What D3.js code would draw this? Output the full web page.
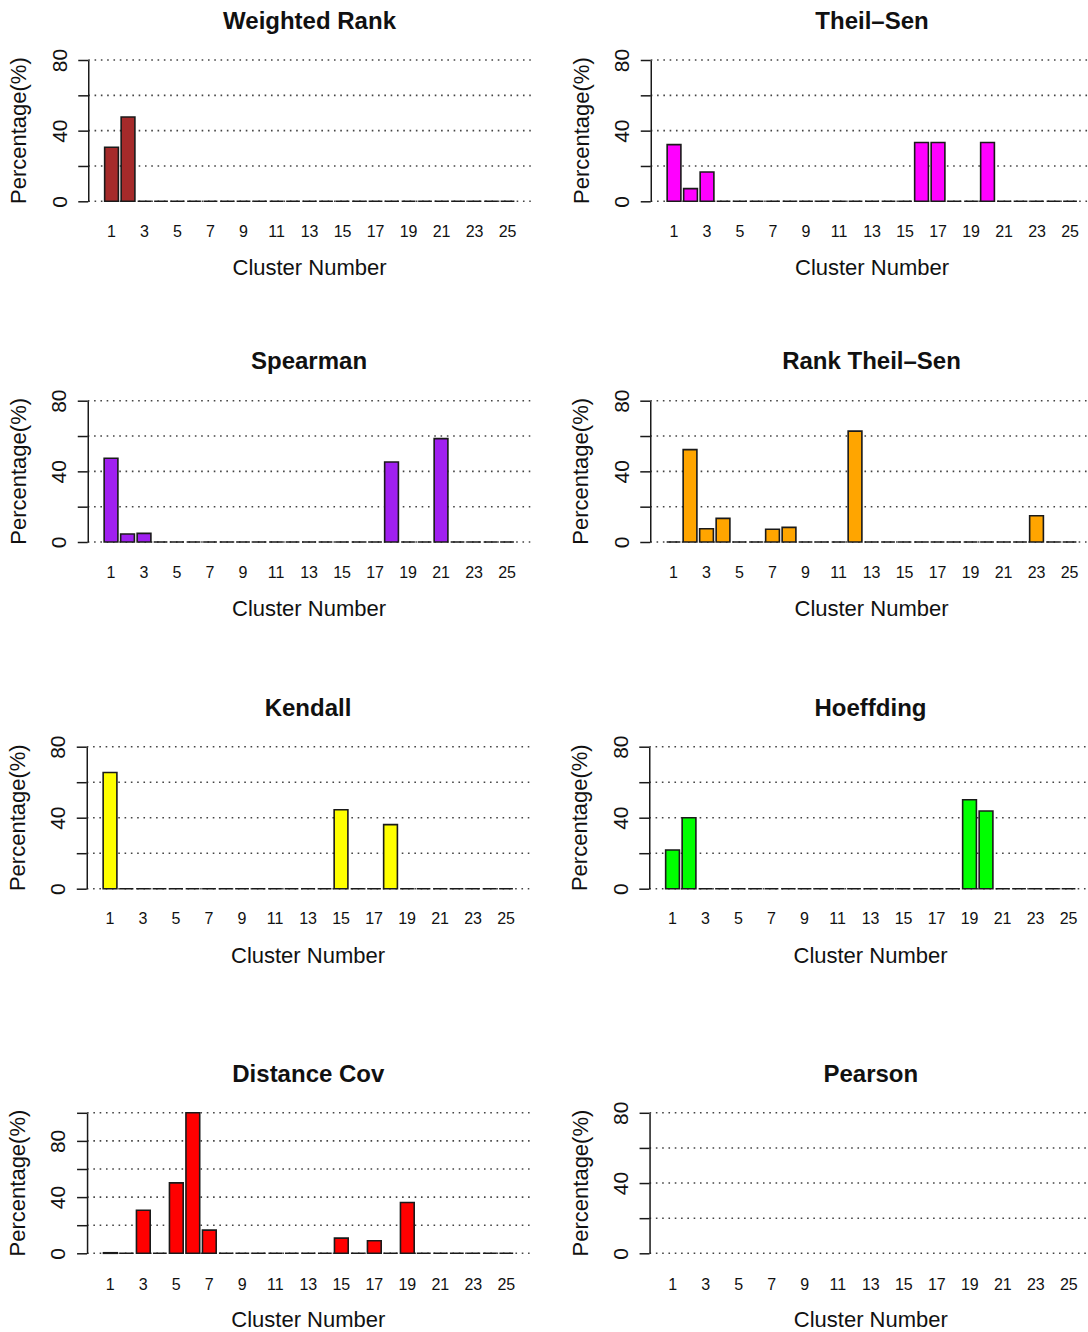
<!DOCTYPE html>
<html>
<head>
<meta charset="utf-8">
<script src="https://cdn.jsdelivr.net/npm/d3@7"></script>
<style>
  html, body { margin: 0; padding: 0; background: #fff; }
  svg { display: block; }
  text { font-family: "Liberation Sans", Arial, Helvetica, sans-serif; fill: #111; }
</style>
</head>
<body>
<svg id="chart" width="1088" height="1332"></svg>
<script>
// ---------------- data ----------------
const clusters = [1,2,3,4,5,6,7,8,9,10,11,12,13,14,15,16,17,18,19,20,21,22,23,24,25];
const xTickLabels = [1,3,5,7,9,11,13,15,17,19,21,23,25];

const weightedRank = [30.6,47.7,0,0,0,0,0,0,0,0,0,0,0,0,0,0,0,0,0,0,0,0,0,0,0];
const theilSen     = [32.1,7.2,16.6,0,0,0,0,0,0,0,0,0,0,0,0,33.3,33.3,0,0,33.3,0,0,0,0,0];
const spearman     = [47.4,4.5,4.9,0,0,0,0,0,0,0,0,0,0,0,0,0,0,45.3,0,0,58.5,0,0,0,0];
const rankTheilSen = [0,52.3,7.5,13.4,0,0,7.2,8.3,0,0,0,62.8,0,0,0,0,0,0,0,0,0,0,14.9,0,0];
const kendall      = [65.5,0,0,0,0,0,0,0,0,0,0,0,0,0,44.5,0,0,36.1,0,0,0,0,0,0,0];
const hoeffding    = [21.8,40,0,0,0,0,0,0,0,0,0,0,0,0,0,0,0,0,50.1,43.8,0,0,0,0,0];
const distanceCov  = [0.4,0,30.6,0,50.1,100,16.5,0,0,0,0,0,0,0,10.8,0,8.9,0,36.2,0,0,0,0,0,0];
const pearson      = [null,null,null,null,null,null,null,null,null,null,null,null,null,null,null,null,null,null,null,null,null,null,null,null,null];

const yTicks80  = [0,20,40,60,80];
const yTicks100 = [0,20,40,60,80,100];
const yTickLabels = [0,40,80];

const panels = [
  {title: "Weighted Rank",   values: weightedRank, color: "#A52A2A", yMax: 80,  ticks: yTicks80,  row: 0, col: 0},
  {title: "Theil\u2013Sen",  values: theilSen,     color: "#FF00FF", yMax: 80,  ticks: yTicks80,  row: 0, col: 1},
  {title: "Spearman",        values: spearman,     color: "#A020F0", yMax: 80,  ticks: yTicks80,  row: 1, col: 0},
  {title: "Rank Theil\u2013Sen", values: rankTheilSen, color: "#FFA500", yMax: 80, ticks: yTicks80, row: 1, col: 1},
  {title: "Kendall",         values: kendall,      color: "#FFFF00", yMax: 80,  ticks: yTicks80,  row: 2, col: 0},
  {title: "Hoeffding",       values: hoeffding,    color: "#00FF00", yMax: 80,  ticks: yTicks80,  row: 2, col: 1},
  {title: "Distance Cov",    values: distanceCov,  color: "#FF0000", yMax: 100, ticks: yTicks100, row: 3, col: 0},
  {title: "Pearson",         values: pearson,      color: "#BEBEBE", yMax: 80,  ticks: yTicks80,  row: 3, col: 1}
];

// ---------------- layout ----------------
const rowZero   = [201.3, 542, 888.7, 1253.3];
const rowH      = [141.3, 141.3, 142, 140.5];
const rowTitleC = [20.7, 360.7, 707, 1073];
const rowTickOff = [36, 35.6, 35, 36.4];
const rowXlabOff = [74, 74, 74.3, 73.6];
const rowDx = [0, -0.5, -1.5, -1.2];
const colDx = [0, 562.5];
const unit = 13.75;
const x0Base = 101.9;

const svg = d3.select("#chart");

panels.forEach(p => {
  const x0 = x0Base + colDx[p.col] + rowDx[p.row];
  const zero = rowZero[p.row];
  const H = rowH[p.row];

  const x = d3.scaleBand()
    .domain(clusters)
    .range([x0, x0 + 30.2 * unit])
    .paddingInner(1/6)
    .paddingOuter(1/6);
  const y = d3.scaleLinear().domain([0, p.yMax]).range([zero, zero - H]);

  const plotLeft = x0 + 0.2 * unit - 1.192 * unit;
  const plotRight = x0 + 30 * unit + 1.192 * unit;

  const g = svg.append("g");

  // dotted grid
  g.append("g").selectAll("line").data(p.ticks).join("line")
    .attr("x1", plotLeft).attr("x2", plotRight)
    .attr("y1", d => y(d)).attr("y2", d => y(d))
    .attr("stroke", "#444")
    .attr("stroke-width", 1.6)
    .attr("stroke-dasharray", "1.6 4.7");

  // bars (paths so zero-height bars still draw their outline)
  const data = clusters.map((c, i) => ({c, v: p.values[i]})).filter(d => d.v !== null && d.v !== undefined);
  g.append("g").selectAll("path").data(data).join("path")
    .attr("d", d => {
      const xl = x(d.c), xr = x(d.c) + x.bandwidth();
      const yb = y(0), yt = y(d.v);
      return `M${xl},${yb}H${xr}V${yt}H${xl}Z`;
    })
    .attr("fill", p.color)
    .attr("stroke", "#1a1a1a")
    .attr("stroke-width", 1.6)
    .attr("stroke-linejoin", "miter");

  // y axis
  const yAxis = d3.axisLeft(y)
    .tickValues(p.ticks)
    .tickSize(10)
    .tickSizeOuter(0)
    .tickFormat(v => yTickLabels.includes(v) ? String(v) : "");
  const ag = g.append("g").attr("transform", `translate(${plotLeft},0)`).call(yAxis);
  ag.select(".domain").attr("stroke", "#1a1a1a").attr("stroke-width", 1.5);
  ag.selectAll(".tick line").attr("stroke", "#1a1a1a").attr("stroke-width", 1.5);
  ag.selectAll(".tick text")
    .attr("transform", "rotate(-90)")
    .attr("x", 0).attr("y", -21.6).attr("dy", 0)
    .attr("text-anchor", "middle")
    .style("font-size", "21px")
    .style("font-family", "'Liberation Sans', Arial, Helvetica, sans-serif")
    .attr("fill", "#111");

  // x tick labels
  const xAxis = d3.axisBottom(x).tickValues(xTickLabels).tickSize(0).tickPadding(0);
  const xg = g.append("g").attr("transform", `translate(0,${zero + rowTickOff[p.row]})`).call(xAxis);
  xg.select(".domain").remove();
  xg.selectAll(".tick text")
    .attr("y", 0).attr("dy", 0)
    .style("font-size", "16px")
    .style("font-family", "'Liberation Sans', Arial, Helvetica, sans-serif")
    .attr("fill", "#111");

  const cx = (plotLeft + plotRight) / 2;

  // title
  g.append("text")
    .attr("x", cx).attr("y", rowTitleC[p.row] + 8.6)
    .attr("text-anchor", "middle")
    .style("font-size", "24px").style("font-weight", "bold")
    .text(p.title);

  // x axis title
  g.append("text")
    .attr("x", cx).attr("y", zero + rowXlabOff[p.row])
    .attr("text-anchor", "middle")
    .style("font-size", "22px")
    .text("Cluster Number");

  // y axis title
  const cy = (y(0) + y(p.yMax)) / 2;
  g.append("text")
    .attr("transform", `translate(${plotLeft - 62},${cy}) rotate(-90)`)
    .attr("text-anchor", "middle")
    .style("font-size", "22px")
    .text("Percentage(%)");
});
</script>
</body>
</html>
